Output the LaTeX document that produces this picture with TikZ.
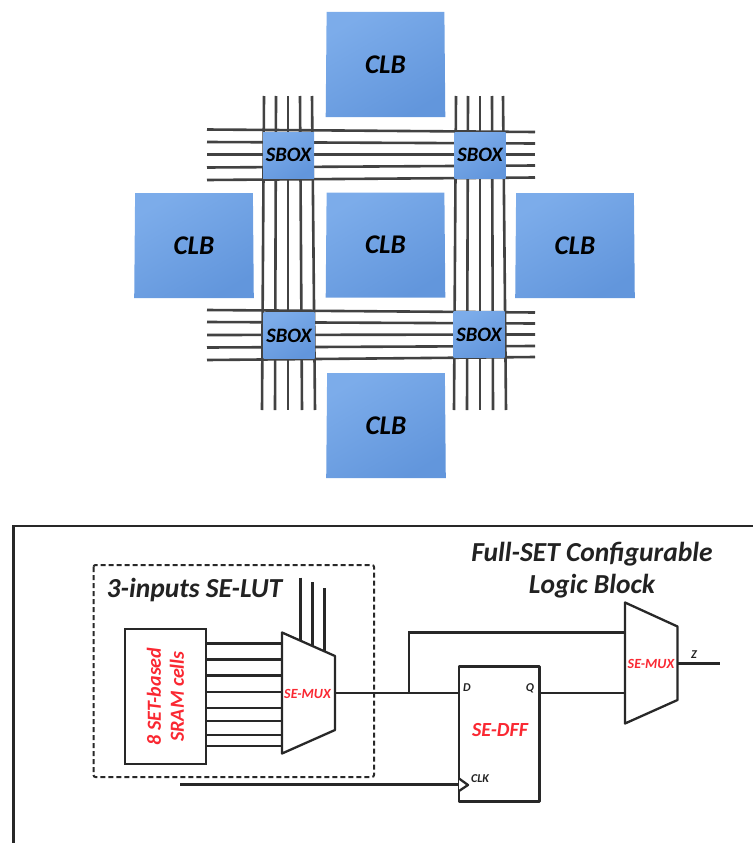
\documentclass[tikz,border=0pt]{standalone}
\usepackage{fontspec}
\setmainfont{Carlito}
\usepackage{xcolor}
\usepackage{tikz}
\usetikzlibrary{backgrounds}
\usetikzlibrary{shapes,shapes.geometric,shapes.misc}
\pgfdeclarelayer{edgelayer}
\pgfdeclarelayer{nodelayer}
\pgfsetlayers{background,edgelayer,nodelayer,main}
\definecolor{blocklight}{RGB}{124,172,234}
\definecolor{blockdark}{RGB}{98,150,220}
\definecolor{wiregray}{RGB}{66,66,66}
\definecolor{linkdark}{RGB}{40,40,40}
\definecolor{titledark}{RGB}{34,34,34}
\definecolor{labelred}{RGB}{250,40,50}
\tikzstyle{none}=[inner sep=0mm]
\tikzstyle{clb}=[shape=trapezium,trapezium stretches=true,trapezium angle=89,minimum width=120,minimum height=105,inner sep=0pt,top color=blocklight,bottom color=blockdark,shading angle=30,font=\fontsize{27}{29}\selectfont\bfseries\itshape,text=black]
\tikzstyle{sbox}=[shape=rectangle,minimum width=51,minimum height=46,inner sep=0pt,top color=blocklight,bottom color=blockdark,shading angle=30,font=\fontsize{20.5}{22}\selectfont\bfseries\itshape,text=black]
\tikzstyle{bus}=[draw=wiregray,line width=2.6]
\tikzstyle{wire}=[draw=linkdark,line width=2.3]
\tikzstyle{cell}=[draw=linkdark,line width=2.3,fill=white,line join=round]
\tikzstyle{frame}=[draw=linkdark,line width=2.4]
\tikzstyle{lutbox}=[draw=linkdark,line width=2,dash pattern=on 5pt off 3pt,rounded corners=2]
\tikzstyle{sram}=[shape=rectangle,rotate=90,draw=linkdark,line width=2.3,fill=white,minimum width=135,minimum height=81,inner sep=0pt,align=center,text=labelred,font=\fontsize{20}{23}\selectfont\bfseries\itshape]
\tikzstyle{muxlabel}=[inner sep=0pt,text=labelred,font=\fontsize{14}{16}\selectfont\bfseries\itshape]
\tikzstyle{dfflabel}=[inner sep=0pt,text=labelred,font=\fontsize{20}{22}\selectfont\bfseries\itshape]
\tikzstyle{pinlabel}=[inner sep=0pt,text=titledark,font=\fontsize{12}{14}\selectfont\bfseries\itshape]
\tikzstyle{title}=[inner sep=0pt,text=titledark,align=center,font=\fontsize{27.5}{32}\selectfont\bfseries\itshape]
\begin{document}
\begin{tikzpicture}[x=1pt,y=-1pt]
	\useasboundingbox (0, 0) rectangle (753, 843);
	\begin{pgfonlayer}{nodelayer}
		\node [style=clb] (0) at (385.5, 64.5) {CLB};
		\node [style=clb] (1) at (194, 245.5) {CLB};
		\node [style=clb] (2) at (385.5, 245) {CLB};
		\node [style=clb] (3) at (575, 245.5) {CLB};
		\node [style=clb] (4) at (386, 425.5) {CLB};
		\node [style=sbox] (5) at (288.5, 155) {SBOX};
		\node [style=sbox] (6) at (480, 155) {SBOX};
		\node [style=sbox] (7) at (289, 335.5) {SBOX};
		\node [style=sbox] (8) at (479, 334.5) {SBOX};
		\node [style=none] (10) at (264, 96) {};
		\node [style=none] (11) at (262, 410) {};
		\node [style=none] (12) at (276, 96) {};
		\node [style=none] (13) at (275, 410) {};
		\node [style=none] (14) at (288, 96) {};
		\node [style=none] (15) at (288, 410) {};
		\node [style=none] (16) at (300, 96) {};
		\node [style=none] (17) at (302, 410) {};
		\node [style=none] (18) at (312, 96) {};
		\node [style=none] (19) at (315, 410) {};
		\node [style=none] (20) at (456, 96) {};
		\node [style=none] (21) at (454, 410) {};
		\node [style=none] (22) at (468, 96) {};
		\node [style=none] (23) at (467, 410) {};
		\node [style=none] (24) at (480, 96) {};
		\node [style=none] (25) at (480, 410) {};
		\node [style=none] (26) at (492, 96) {};
		\node [style=none] (27) at (493, 410) {};
		\node [style=none] (28) at (503, 96) {};
		\node [style=none] (29) at (506, 410) {};
		\node [style=none] (30) at (207, 129.5) {};
		\node [style=none] (31) at (535, 132) {};
		\node [style=none] (32) at (207, 142) {};
		\node [style=none] (33) at (535, 143.5) {};
		\node [style=none] (34) at (207, 154.5) {};
		\node [style=none] (35) at (535, 154.5) {};
		\node [style=none] (36) at (207, 167.5) {};
		\node [style=none] (37) at (535, 165.5) {};
		\node [style=none] (38) at (207, 180) {};
		\node [style=none] (39) at (535, 177.5) {};
		\node [style=none] (40) at (207, 310) {};
		\node [style=none] (41) at (535, 312.5) {};
		\node [style=none] (42) at (207, 322) {};
		\node [style=none] (43) at (535, 323.5) {};
		\node [style=none] (44) at (207, 335) {};
		\node [style=none] (45) at (535, 334.5) {};
		\node [style=none] (46) at (207, 347.5) {};
		\node [style=none] (47) at (535, 346) {};
		\node [style=none] (48) at (207, 360) {};
		\node [style=none] (49) at (535, 357) {};
		\node [style=none] (50) at (13.5, 843) {};
		\node [style=none] (51) at (13.5, 526) {};
		\node [style=none] (52) at (753, 526) {};
		\node [style=none] (53) at (93.5, 565) {};
		\node [style=none] (54) at (374, 777) {};
		\node [style=sram] (55) at (165.5, 696.5) {8 SET-based\\SRAM cells};
		\node [style=none] (56) at (282, 632.5) {};
		\node [style=none] (57) at (335, 656) {};
		\node [style=none] (58) at (335, 730) {};
		\node [style=none] (59) at (282, 753.5) {};
		\node [style=muxlabel] (60) at (307.5, 694) {SE-MUX};
		\node [style=none] (61) at (206, 643.5) {};
		\node [style=none] (62) at (282, 643.5) {};
		\node [style=none] (63) at (206, 659.5) {};
		\node [style=none] (64) at (282, 659.5) {};
		\node [style=none] (65) at (206, 675.5) {};
		\node [style=none] (66) at (282, 675.5) {};
		\node [style=none] (67) at (206, 692) {};
		\node [style=none] (68) at (282, 692) {};
		\node [style=none] (69) at (206, 708) {};
		\node [style=none] (70) at (282, 708) {};
		\node [style=none] (71) at (206, 721) {};
		\node [style=none] (72) at (282, 721) {};
		\node [style=none] (73) at (206, 735) {};
		\node [style=none] (74) at (282, 735) {};
		\node [style=none] (75) at (206, 746) {};
		\node [style=none] (76) at (282, 746) {};
		\node [style=none] (77) at (300.5, 577.5) {};
		\node [style=none] (78) at (300.5, 641) {};
		\node [style=none] (79) at (312.5, 582) {};
		\node [style=none] (80) at (312.5, 646) {};
		\node [style=none] (81) at (324.5, 588) {};
		\node [style=none] (82) at (324.5, 651) {};
		\node [style=none] (83) at (335, 693) {};
		\node [style=none] (84) at (409, 693) {};
		\node [style=none] (85) at (459, 693) {};
		\node [style=none] (86) at (409, 632.5) {};
		\node [style=none] (87) at (625, 632.5) {};
		\node [style=none] (88) at (459, 666.5) {};
		\node [style=none] (89) at (539.5, 801.5) {};
		\node [style=pinlabel] (90) at (467, 688) {D};
		\node [style=pinlabel] (91) at (530, 688) {Q};
		\node [style=dfflabel] (92) at (500, 730) {SE-DFF};
		\node [style=pinlabel] (93) at (480, 779) {CLK};
		\node [style=none] (94) at (459, 778.5) {};
		\node [style=none] (95) at (468, 785) {};
		\node [style=none] (96) at (459, 791) {};
		\node [style=none] (97) at (180, 784.5) {};
		\node [style=none] (98) at (459, 784.5) {};
		\node [style=none] (99) at (539.5, 693) {};
		\node [style=none] (100) at (625, 693) {};
		\node [style=none] (101) at (625, 602.5) {};
		\node [style=none] (102) at (677.5, 626.5) {};
		\node [style=none] (103) at (677.5, 700) {};
		\node [style=none] (104) at (625, 723.5) {};
		\node [style=muxlabel] (105) at (651, 664) {SE-MUX};
		\node [style=none] (106) at (677.5, 663.5) {};
		\node [style=none] (107) at (719.5, 663.5) {};
		\node [style=pinlabel] (108) at (694, 655) {Z};
		\node [style=title] (109) at (194.5, 590) {3-inputs SE-LUT};
		\node [style=title] (110) at (592, 570) {Full-SET Configurable\\Logic Block};
	\end{pgfonlayer}
	\begin{pgfonlayer}{edgelayer}
		\draw [style=bus] (10.center) to (11.center);
		\draw [style=bus] (12.center) to (13.center);
		\draw [style=bus] (14.center) to (15.center);
		\draw [style=bus] (16.center) to (17.center);
		\draw [style=bus] (18.center) to (19.center);
		\draw [style=bus] (20.center) to (21.center);
		\draw [style=bus] (22.center) to (23.center);
		\draw [style=bus] (24.center) to (25.center);
		\draw [style=bus] (26.center) to (27.center);
		\draw [style=bus] (28.center) to (29.center);
		\draw [style=bus] (30.center) to (31.center);
		\draw [style=bus] (32.center) to (33.center);
		\draw [style=bus] (34.center) to (35.center);
		\draw [style=bus] (36.center) to (37.center);
		\draw [style=bus] (38.center) to (39.center);
		\draw [style=bus] (40.center) to (41.center);
		\draw [style=bus] (42.center) to (43.center);
		\draw [style=bus] (44.center) to (45.center);
		\draw [style=bus] (46.center) to (47.center);
		\draw [style=bus] (48.center) to (49.center);
		\draw [style=frame] (50.center) to (51.center) to (52.center);
		\draw [style=lutbox] (53.center) rectangle (54.center);
		\draw [style=wire] (61.center) to (62.center);
		\draw [style=wire] (63.center) to (64.center);
		\draw [style=wire] (65.center) to (66.center);
		\draw [style=wire] (67.center) to (68.center);
		\draw [style=wire] (69.center) to (70.center);
		\draw [style=wire] (71.center) to (72.center);
		\draw [style=wire] (73.center) to (74.center);
		\draw [style=wire] (75.center) to (76.center);
		\draw [style=wire] (77.center) to (78.center);
		\draw [style=wire] (79.center) to (80.center);
		\draw [style=wire] (81.center) to (82.center);
		\draw [style=wire] (83.center) to (85.center);
		\draw [style=wire] (84.center) to (86.center) to (87.center);
		\draw [style=wire] (97.center) to (98.center);
		\draw [style=wire] (99.center) to (100.center);
		\draw [style=wire] (106.center) to (107.center);
		\draw [style=cell] (56.center) to (57.center) to (58.center) to (59.center) -- cycle;
		\draw [style=cell] (88.center) rectangle (89.center);
		\draw [style=cell] (94.center) to (95.center) to (96.center);
		\draw [style=cell] (101.center) to (102.center) to (103.center) to (104.center) -- cycle;
	\end{pgfonlayer}
\end{tikzpicture}
\end{document}
